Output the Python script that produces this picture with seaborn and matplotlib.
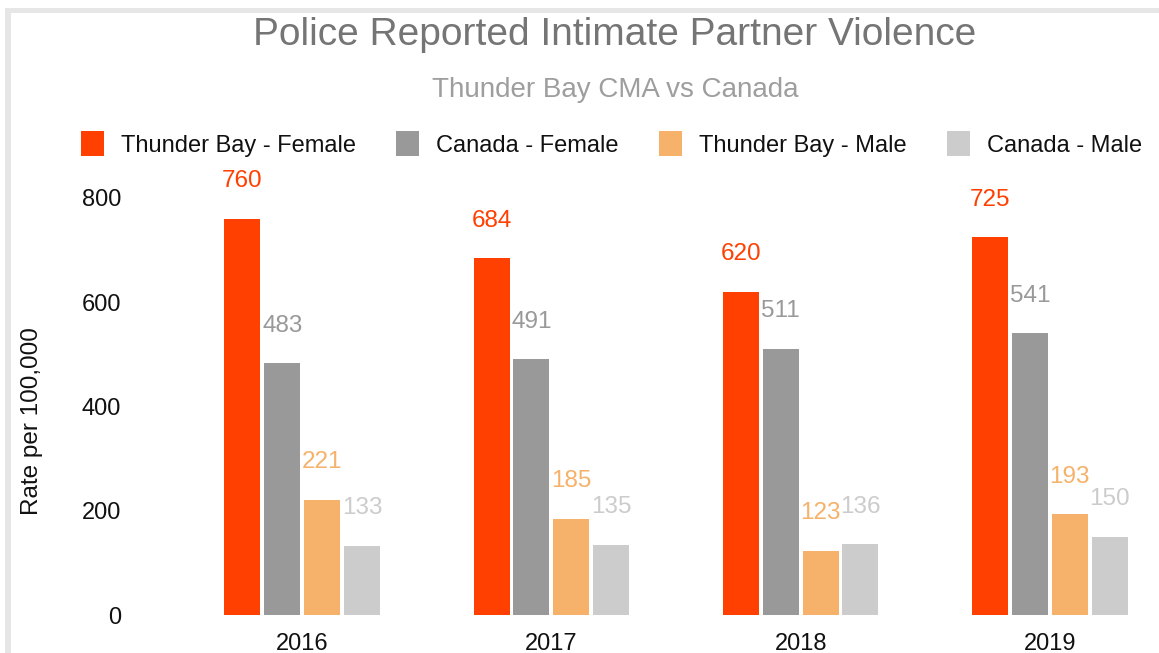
import matplotlib
matplotlib.use("Agg")
import matplotlib.pyplot as plt
from matplotlib.patches import Rectangle, Patch
import seaborn as sns
import pandas as pd

# Chart data
years = ["2016", "2017", "2018", "2019"]
series = ["Thunder Bay - Female", "Canada - Female", "Thunder Bay - Male", "Canada - Male"]
tb_female = [760, 684, 620, 725]
ca_female = [483, 491, 511, 541]
tb_male = [221, 185, 123, 193]
ca_male = [133, 135, 136, 150]
colors = ["#ff4000", "#999999", "#f6b26b", "#cccccc"]
y_ticks = [0, 200, 400, 600, 800]

values = [tb_female, ca_female, tb_male, ca_male]
df = pd.DataFrame(
    [(y, s, v[i]) for s, v in zip(series, values) for i, y in enumerate(years)],
    columns=["year", "series", "rate"],
)

sns.set_theme(style="white")
plt.rcParams["font.family"] = ["Liberation Sans", "DejaVu Sans"]

W, H = 1159, 653
fig = plt.figure(figsize=(W / 100, H / 100), dpi=100)
ax = fig.add_axes([135 / W, 1 - 615 / H, 1 - 135 / W, (615 - 198) / H])

sns.barplot(data=df, x="year", y="rate", hue="series", order=years,
            hue_order=series, palette=colors, width=0.64, saturation=1,
            legend=False, ax=ax)

# narrow each bar to leave a small gap between neighbours, then label it
bar_w = 36 / 249
for patch in ax.patches:
    cx = patch.get_x() + patch.get_width() / 2
    patch.set_x(cx - bar_w / 2)
    patch.set_width(bar_w)
    patch.set_linewidth(0)

for container, col in zip(ax.containers, colors):
    for patch, val in zip(container.patches, container.datavalues):
        cx = patch.get_x() + patch.get_width() / 2
        ax.annotate(f"{val:.0f}", (cx, val), xytext=(0, 27),
                    textcoords="offset points", ha="center", va="center",
                    fontsize=17.5, color=col)

ax.set_xlim(-(302 - 135) / 249, 3 + (1159 - 1050) / 249)
ax.set_ylim(0, 800)
ax.set_yticks(y_ticks)
ax.set_yticklabels([str(t) for t in y_ticks])
ax.set_xlabel("")
ax.set_ylabel("")
for sp in ax.spines.values():
    sp.set_visible(False)
ax.tick_params(axis="both", length=0, labelsize=17, labelcolor="#111111")
ax.tick_params(axis="y", pad=10)
ax.tick_params(axis="x", pad=13)

fig.text(32 / W, 1 - 421 / H, "Rate per 100,000", rotation=90,
         ha="center", va="center", fontsize=17.5, color="#111111")

fig.text(615 / W, 1 - 45 / H, "Police Reported Intimate Partner Violence",
         ha="center", va="baseline", fontsize=28, color="#757575")
fig.text(615 / W, 1 - 97 / H, "Thunder Bay CMA vs Canada",
         ha="center", va="baseline", fontsize=20, color="#9e9e9e")

handles = [Patch(facecolor=c, edgecolor="none") for c in colors]
fig.legend(handles, series, ncol=4, loc="center",
           bbox_to_anchor=(611.5 / W, 1 - 144 / H), frameon=False,
           fontsize=17, handlelength=0.98, handleheight=1.2,
           handletextpad=0.72, columnspacing=1.7, labelcolor="#111111")

# light frame along the top and left edges
fig.add_artist(Rectangle((5 / W, 0), 6 / W, 1 - 8 / H, transform=fig.transFigure,
                         facecolor="#e6e6e6", edgecolor="none"))
fig.add_artist(Rectangle((5 / W, 1 - 12.5 / H), 1, 4.5 / H, transform=fig.transFigure,
                         facecolor="#e6e6e6", edgecolor="none"))

fig.savefig("out.png", dpi=100)
